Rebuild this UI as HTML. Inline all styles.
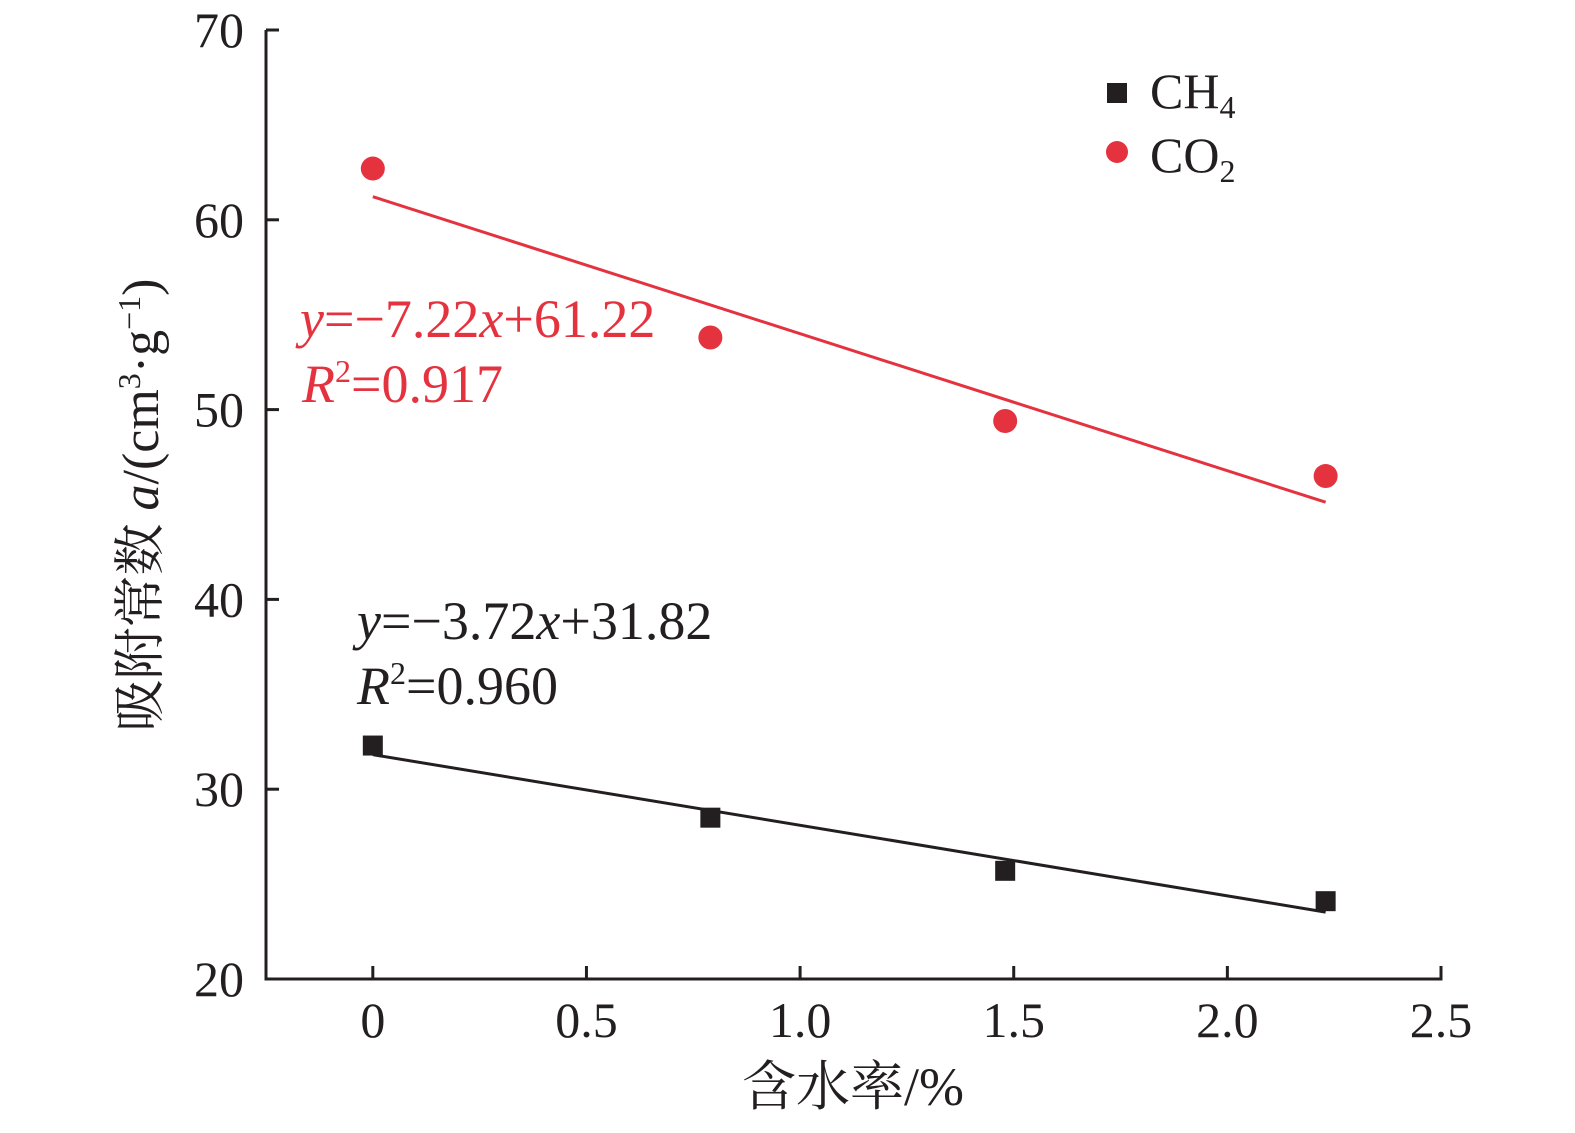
<!DOCTYPE html>
<html><head><meta charset="utf-8"><style>
body{margin:0;background:#fff}
svg text{font-family:"Liberation Serif","Noto Serif CJK SC",serif}
</style></head><body>
<svg width="1575" height="1128" viewBox="0 0 1575 1128">
<g id="axes"></g>
<g id="marks"></g>
<text x="1150" y="108" font-size="50" fill="#231f20">CH<tspan font-size="32" dy="10">4</tspan></text>
<rect x="1107" y="83" width="20" height="20" fill="#231f20"/>
<circle cx="1117" cy="152" r="11" fill="#e5323f"/>
<text x="1150" y="172" font-size="50" fill="#231f20">CO<tspan font-size="32" dy="10">2</tspan></text>
<text x="300" y="337" font-size="54" fill="#e5323f"><tspan font-style="italic">y</tspan>=−7.22<tspan font-style="italic">x</tspan>+61.22</text>
<text x="302" y="402" font-size="54" fill="#e5323f"><tspan font-style="italic">R</tspan><tspan font-size="32" dy="-20">2</tspan><tspan dy="20">=0.917</tspan></text>
<text x="357" y="639" font-size="54" fill="#231f20"><tspan font-style="italic">y</tspan>=−3.72<tspan font-style="italic">x</tspan>+31.82</text>
<text x="357" y="704" font-size="54" fill="#231f20"><tspan font-style="italic">R</tspan><tspan font-size="32" dy="-20">2</tspan><tspan dy="20">=0.960</tspan></text>
<text x="853" y="1105" font-size="54" text-anchor="middle" fill="#231f20">含水率/%</text>
<text transform="translate(158,505) rotate(-90)" font-size="52" text-anchor="middle" fill="#231f20">吸附常数 <tspan font-style="italic">a</tspan>/(cm<tspan font-size="32" dy="-18">3</tspan><tspan dy="18">·g</tspan><tspan font-size="32" dy="-18">−1</tspan><tspan dy="18">)</tspan></text>
</svg>
<script>
const xTicks=[0,0.5,1.0,1.5,2.0,2.5];
const xTickLabels=["0","0.5","1.0","1.5","2.0","2.5"];
const yTicks=[20,30,40,50,60,70];
const waterContent=[0,0.79,1.48,2.23];
const ch4Values=[32.3,28.5,25.7,24.1];
const co2Values=[62.7,53.8,49.4,46.5];
const ch4Fit=[-3.72,31.82];
const co2Fit=[-7.22,61.22];
const X0=266,X1=1441,Y0=979,Y1=30;
const xmin=-0.25,xmax=2.5,ymin=20,ymax=70;
const sx=v=>X0+(v-xmin)/(xmax-xmin)*(X1-X0);
const sy=v=>Y0-(v-ymin)/(ymax-ymin)*(Y0-Y1);
const NS="http://www.w3.org/2000/svg";
const axes=document.getElementById('axes'),marks=document.getElementById('marks');
function mk(p,t,a){const e=document.createElementNS(NS,t);for(const k in a)e.setAttribute(k,a[k]);p.appendChild(e);return e;}
let e=mk(axes,'path',{d:`M${X0},${Y1}V${Y0}H${X1}V${Y0-13}`,fill:'none',stroke:'#231f20','stroke-width':3});


xTicks.forEach((v,i)=>{
 const l=mk(axes,'line',{x1:sx(v),x2:sx(v),y1:Y0,y2:Y0-13,stroke:'#231f20','stroke-width':3});
 
 
 const t=mk(axes,'text',{x:sx(v),y:Y0+58,'font-size':50,'text-anchor':'middle',fill:'#231f20'});
 t.textContent=xTickLabels[i];
 
 
});
yTicks.forEach(v=>{
 const l=mk(axes,'line',{x1:X0,x2:X0+13,y1:sy(v),y2:sy(v),stroke:'#231f20','stroke-width':3});
 
 
 const t=mk(axes,'text',{x:X0-22,y:sy(v)+17,'font-size':50,'text-anchor':'end',fill:'#231f20'});
 t.textContent=String(v);
 
 
});
const xa=waterContent[0],xb=waterContent[waterContent.length-1];
[[co2Fit,'#e5323f','co2-fit-line'],[ch4Fit,'#231f20','ch4-fit-line']].forEach(([f,c,n])=>{
 const l=mk(marks,'line',{x1:sx(xa),y1:sy(f[0]*xa+f[1]),x2:sx(xb),y2:sy(f[0]*xb+f[1]),stroke:c,'stroke-width':3});
 
 
});
waterContent.forEach((x,i)=>{
 const r=mk(marks,'rect',{x:sx(x)-10,y:sy(ch4Values[i])-10,width:20,height:20,fill:'#231f20'});
 
 
 const c=mk(marks,'circle',{cx:sx(x),cy:sy(co2Values[i]),r:12,fill:'#e5323f'});
 
 
});
</script>
</body></html>
